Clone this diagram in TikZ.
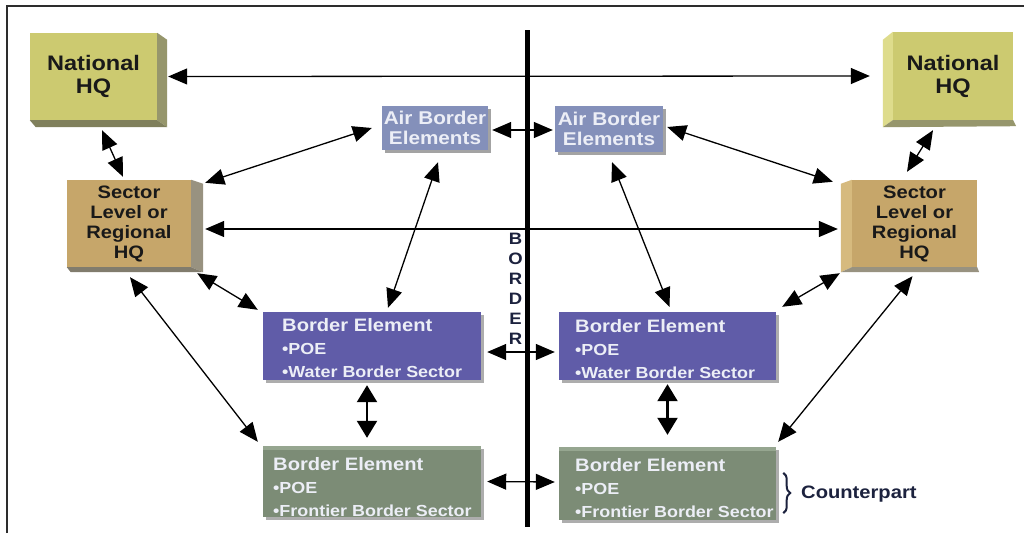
\documentclass[tikz,border=0pt]{standalone}
\usepackage{fontspec}
\setmainfont{Liberation Sans}[FakeStretch=1.12]
\usetikzlibrary{arrows.meta,shadows,decorations.pathreplacing}
\definecolor{natface}{RGB}{204,202,112}
\definecolor{natdark}{RGB}{150,150,108}
\definecolor{natlight}{RGB}{222,220,140}
\definecolor{secface}{RGB}{198,166,106}
\definecolor{secdark}{RGB}{152,146,128}
\definecolor{seclight}{RGB}{214,186,126}
\definecolor{airface}{RGB}{132,144,186}
\definecolor{watface}{RGB}{96,92,168}
\definecolor{froface}{RGB}{124,140,118}
\definecolor{frotop}{RGB}{150,166,144}
\definecolor{navy}{RGB}{28,34,62}
\definecolor{framecol}{RGB}{45,45,45}
\definecolor{lighttext}{RGB}{236,238,246}
\begin{document}
\begin{tikzpicture}[x=1pt,y=-1pt,
  bigtip/.tip={Triangle[length=19pt,width=16pt]},
  widetip/.tip={Triangle[length=17pt,width=20pt]},
  biarr/.style={bigtip-bigtip, line width=1.3pt, black},
  biarrthick/.style={widetip-widetip, line width=2.2pt, black},
  hqbox/.style={rectangle, inner sep=0pt, align=center, text=black!90},
  natbox/.style={hqbox, fill=natface, font=\fontsize{21}{23}\selectfont\bfseries},
  secbox/.style={hqbox, fill=secface, font=\fontsize{18}{20}\selectfont\bfseries},
  airbox/.style={rectangle, inner sep=0pt, align=center, fill=airface, text=lighttext,
     font=\fontsize{18.5}{20}\selectfont\bfseries,
     drop shadow={shadow xshift=3pt, shadow yshift=-3pt, fill=black!45, opacity=0.8}},
  elbox/.style={rectangle, inner sep=0pt,
     drop shadow={shadow xshift=3pt, shadow yshift=-3pt, fill=black!40, opacity=0.8}},
  eltext/.style={anchor=north west, inner sep=0pt, align=left, text=lighttext,
     font=\fontsize{18}{23}\selectfont\bfseries},
  bordertext/.style={inner sep=0pt, align=center, text=navy,
     font=\fontsize{16.5}{20}\selectfont\bfseries}
]
\newcommand{\subline}[1]{{\fontsize{16}{23}\selectfont\textbullet#1}}
\useasboundingbox (0,0) rectangle (1024,533);
\fill[white] (0,0) rectangle (1024,533);
% frame
\draw[framecol, line width=2pt] (7,533) -- (7,6) -- (1024,6);

% HQ boxes
\node[natbox, minimum width=127pt, minimum height=87pt] (natL) at (93.5,76.5) {National\\HQ};
\node[natbox, minimum width=120pt, minimum height=88pt] (natR) at (953,76) {National\\HQ};
\node[secbox, minimum width=124pt, minimum height=87pt] (secL) at (129,223.5) {Sector\\Level or\\Regional\\HQ};
\node[secbox, minimum width=125pt, minimum height=87pt] (secR) at (914.5,223.5) {Sector\\Level or\\Regional\\HQ};

% 3D sides
\fill[natdark] (natL.north east) -- ++(10,7) -- ([shift={(10,7)}]natL.south east) -- (natL.south east) -- cycle;
\fill[natdark!85!black] (natL.south west) -- (natL.south east) -- ([shift={(10,7)}]natL.south east) -- ([shift={(6,7)}]natL.south west) -- cycle;
\fill[natlight] (natR.north west) -- ++(-10,8) -- ([shift={(-10,7)}]natR.south west) -- (natR.south west) -- cycle;
\fill[natdark] (natR.south west) -- (natR.south east) -- ([shift={(3,6)}]natR.south east) -- ([shift={(-10,7)}]natR.south west) -- cycle;
\fill[secdark] (secL.north east) -- ++(12,4) -- ([shift={(12,5)}]secL.south east) -- (secL.south east) -- cycle;
\fill[secdark!85!black] (secL.south west) -- (secL.south east) -- ([shift={(12,5)}]secL.south east) -- ([shift={(4,5)}]secL.south west) -- cycle;
\fill[seclight] (secR.north west) -- ++(-11,4) -- ([shift={(-11,5)}]secR.south west) -- (secR.south west) -- cycle;
\fill[secdark] (secR.south west) -- (secR.south east) -- ([shift={(2,5)}]secR.south east) -- ([shift={(-11,5)}]secR.south west) -- cycle;

% Air border elements
\node[airbox, minimum width=106pt, minimum height=44pt] (airL) at (435,128) {Air Border\\Elements};
\node[airbox, minimum width=108pt, minimum height=46pt] (airR) at (609,129) {Air Border\\Elements};

% Border element boxes
\node[elbox, fill=watface, minimum width=218pt, minimum height=68pt] (watL) at (372,346) {};
\node[elbox, fill=watface, minimum width=217pt, minimum height=68pt] (watR) at (667.5,346) {};
\node[elbox, fill=froface, minimum width=218pt, minimum height=71pt] (froL) at (372,481.5) {};
\node[elbox, fill=froface, minimum width=217pt, minimum height=73pt] (froR) at (667.5,483.5) {};
\fill[frotop] (froL.north west) rectangle ([yshift=-4pt]froL.north east);
\fill[frotop] (froR.north west) rectangle ([yshift=-4pt]froR.north east);

\node[eltext] (watLt) at (282,318) {Border Element\\\subline{POE}\\\subline{Water Border Sector}};
\node[eltext] (watRt) at (575,319) {Border Element\\\subline{POE}\\\subline{Water Border Sector}};
\node[eltext] (froLt) at (273,457) {Border Element\\\subline{POE}\\\subline{Frontier Border Sector}};
\node[eltext] (froRt) at (575,458) {Border Element\\\subline{POE}\\\subline{Frontier Border Sector}};

% border line and label
\draw[black, line width=4.5pt] (527.5,30) -- (527.5,527);
\node[bordertext, anchor=north] (bord) at (515.5,233) {B\\O\\R\\D\\E\\R};

% connectors
\draw[biarr] ([xshift=11pt]natL.east) -- ([xshift=-23pt]natR.west);
\draw[biarr] ([xshift=8.5pt,yshift=-10pt]natL.south) -- ([xshift=-6pt,yshift=3pt]secL.north);
\draw[biarr] ([xshift=-10pt]airL.west) -- ([xshift=14pt,yshift=-3pt]secL.north east);
\draw[biarr] ([xshift=14pt,yshift=-5.5pt]secL.east) -- ([xshift=-14pt,yshift=-5.5pt]secR.west);
\draw[biarr] ([xshift=4pt,yshift=-2pt]airL.east) -- ([xshift=-2pt,yshift=-1pt]airR.west);
\draw[biarr] ([xshift=3pt,yshift=-12pt]airL.south) -- ([xshift=16pt,yshift=4pt]watL.north);
\draw[biarr] ([xshift=6pt,yshift=-6pt]secL.south east) -- ([xshift=-5pt,yshift=2pt]watL.north west);
\draw[biarr] ([xshift=1pt,yshift=-10pt]secL.south) -- ([xshift=-5pt,yshift=4pt]froL.north west);
\draw[biarrthick] ([xshift=-5pt,yshift=-5pt]watL.south) -- ([xshift=-5pt,yshift=8pt]froL.north);
\draw[biarr] ([xshift=6pt,yshift=-6pt]watL.east) -- ([xshift=-4pt,yshift=-6pt]watR.west);
\draw[biarr] ([xshift=6pt]froL.east) -- ([xshift=-4pt,yshift=1.5pt]froR.west);
\draw[biarr] ([xshift=4pt,yshift=2pt]airR.east) -- ([xshift=-19pt,yshift=-2pt]secR.north west);
\draw[biarr] ([xshift=-20pt,yshift=-10pt]natR.south) -- ([xshift=-7.5pt,yshift=8pt]secR.north);
\draw[biarr] ([xshift=3pt,yshift=-10pt]airR.south) -- ([xshift=2pt,yshift=5pt]watR.north);
\draw[biarr] ([xshift=-12pt,yshift=-6pt]secR.south west) -- ([xshift=6pt,yshift=5pt]watR.north east);
\draw[biarr] ([xshift=-2pt,yshift=-9pt]secR.south) -- ([xshift=2pt,yshift=5pt]froR.north east);
\draw[biarrthick] ([yshift=-4pt]watR.south) -- ([yshift=12pt]froR.north);

% counterpart brace
\draw[navy, line width=2pt, decorate, decoration={brace, amplitude=7pt}]
  ([xshift=7pt,yshift=-26pt]froR.north east) -- ([xshift=7pt,yshift=7pt]froR.south east);
\node[anchor=west, inner sep=0pt, text=navy, font=\fontsize{18}{20}\selectfont\bfseries] (cp) at (801,494) {Counterpart};
\end{tikzpicture}
\end{document}
